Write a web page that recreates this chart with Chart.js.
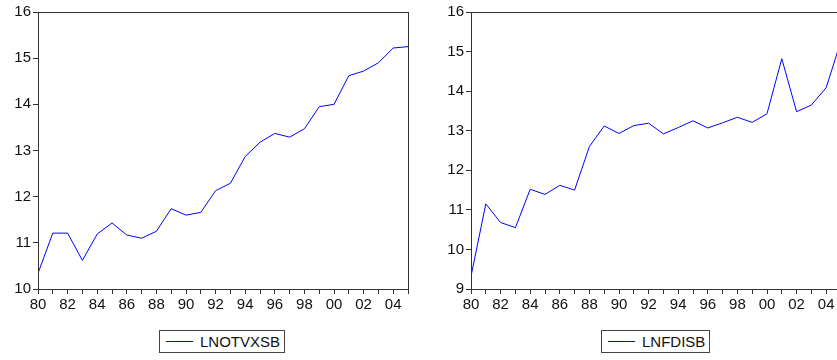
<!DOCTYPE html>
<html>
<head>
<meta charset="utf-8">
<script src="https://cdn.jsdelivr.net/npm/chart.js@4"></script>
<style>
  html, body { margin: 0; padding: 0; background: #fff; overflow: hidden; width: 837px; height: 360px; }
  .box { position: absolute; }
  .legend {
    position: absolute; height: 23px; border: 1px solid #444; background: #fff;
    font: 15px "Liberation Sans", Arial, sans-serif; color: #111;
    display: flex; align-items: center; box-sizing: border-box; padding-left: 6px;
  }
  .legend i { display: inline-block; width: 27px; height: 1px; background: #0000ff; margin-right: 7px; }
</style>
</head>
<body>
<div class="box" style="left:0;top:0;width:420px;height:320px"><canvas id="left"></canvas></div>
<div class="box" style="left:420px;top:0;width:423px;height:320px"><canvas id="right"></canvas></div>
<div class="legend" style="left:159px;top:330px;width:126px"><i></i>LNOTVXSB</div>
<div class="legend" style="left:601px;top:330px;width:109px"><i></i>LNFDISB</div>
<script>
const years = [1980,1981,1982,1983,1984,1985,1986,1987,1988,1989,1990,1991,1992,
  1993,1994,1995,1996,1997,1998,1999,2000,2001,2002,2003,2004,2005];
const lnotvxsb = [10.34,11.21,11.21,10.62,11.19,11.43,11.17,11.10,11.25,11.74,11.60,11.66,12.13,
  12.29,12.87,13.18,13.37,13.29,13.47,13.95,14.00,14.62,14.72,14.90,15.22,15.25];
const lnfdisb = [9.32,11.15,10.68,10.55,11.52,11.39,11.62,11.50,12.60,13.12,12.93,13.13,13.19,
  12.92,13.08,13.25,13.07,13.20,13.34,13.21,13.43,14.82,13.48,13.65,14.09,15.27];

const fontSpec = { family: '"Liberation Sans", Arial, sans-serif', size: 15 };

// frame around the plot area (top and right sides included)
const frame = {
  id: 'frame',
  afterDraw(chart) {
    const a = chart.chartArea, ctx = chart.ctx;
    ctx.save();
    ctx.strokeStyle = '#333';
    ctx.lineWidth = 1;
    ctx.strokeRect(Math.round(a.left) + 0.5, Math.round(a.top) + 0.5,
      Math.round(a.right - a.left), Math.round(a.bottom - a.top));
    ctx.restore();
  }
};

function makeChart(id, series, yMin, yMax, yWidth, padRight) {
  return new Chart(document.getElementById(id), {
    type: 'line',
    data: {
      datasets: [{
        data: years.map((y, i) => ({ x: y, y: series[i] })),
        borderColor: '#0000ff',
        borderWidth: 1,
        pointRadius: 0,
        tension: 0
      }]
    },
    options: {
      responsive: true,
      maintainAspectRatio: false,
      animation: false,
      layout: { padding: { left: 0, right: padRight, top: 12, bottom: 0 } },
      plugins: { legend: { display: false }, tooltip: { enabled: false } },
      scales: {
        x: {
          type: 'linear', min: 1980, max: 2005,
          afterFit(s) { s.height = 31; },
          border: { color: '#333' },
          grid: { drawOnChartArea: false, tickLength: 5, color: '#333' },
          ticks: {
            stepSize: 1, autoSkip: false, maxRotation: 0, padding: 2,
            color: '#111', font: fontSpec,
            callback: v => (v % 2 === 0 ? String(v % 100).padStart(2, '0') : '')
          }
        },
        y: {
          min: yMin, max: yMax,
          afterFit(s) { s.width = yWidth; },
          border: { color: '#333' },
          grid: { drawOnChartArea: false, tickLength: 5, color: '#333' },
          ticks: { stepSize: 1, padding: 2, color: '#111', font: fontSpec }
        }
      }
    },
    plugins: [frame]
  });
}

makeChart('left', lnotvxsb, 10, 16, 38, 12);
makeChart('right', lnfdisb, 9, 16, 51, 2);
</script>
</body>
</html>
